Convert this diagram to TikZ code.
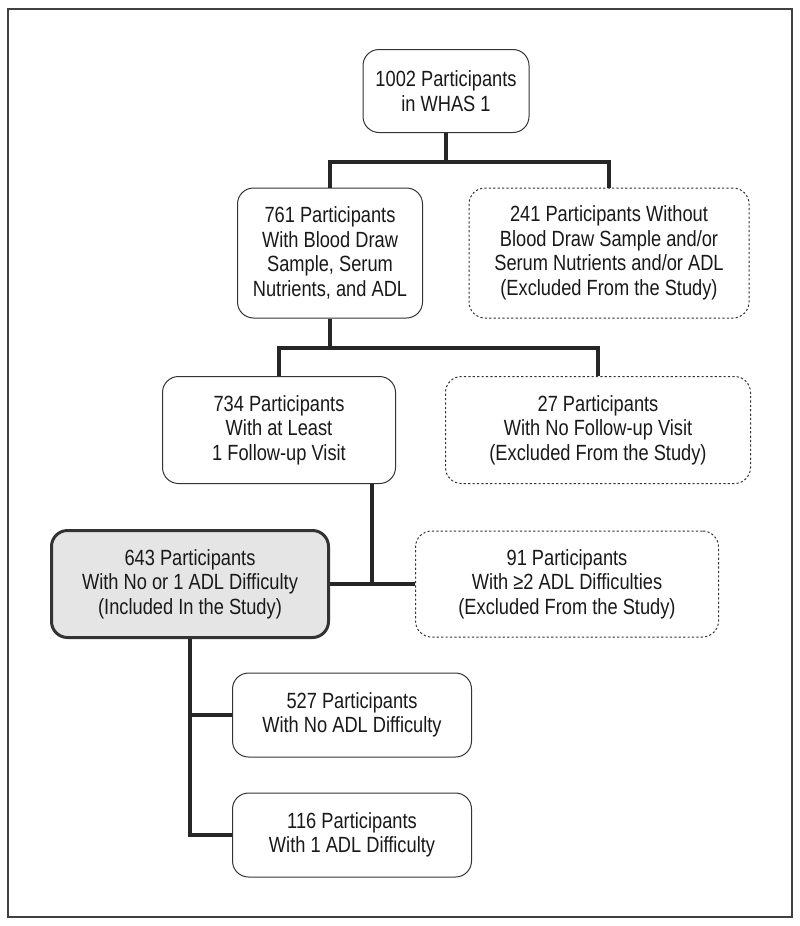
\documentclass[tikz,border=0pt]{standalone}
\usepackage{fontspec}
\newfontfamily\chartfont{Liberation Sans}[FakeStretch=0.83]
\usetikzlibrary{calc,positioning}

\begin{document}
\begin{tikzpicture}[x=1pt,y=-1pt]
  \tikzset{
    box/.style={draw=black!80, fill=white, rounded corners=16pt, line width=1pt, align=center, text=black!90, font=\chartfont\fontsize{22}{24.5}\selectfont, inner sep=4pt},
    xbox/.style={box, dash pattern=on 2.2pt off 2.2pt},
    incl/.style={box, fill=black!10, line width=3pt},
    conn/.style={black!85, line width=3.2pt},
    frame/.style={draw=black!75, line width=1.8pt}
  }

  % - Frame ---
  \useasboundingbox (0,0) rectangle (800,926);
  \draw[frame] (8,9) rectangle (792,917);

  % - Top level ---
  \node[box, minimum width=166pt, minimum height=83pt] (n1002) at (446, 91) {1002 Participants\\in WHAS 1};

  % - Blood draw split ---
  \node[box, minimum width=185pt, minimum height=130pt] (n761) at (330, 253) {761 Participants\\With Blood Draw\\Sample, Serum\\Nutrients, and ADL};
  \node[xbox, minimum width=280pt, minimum height=130pt] (n241) at (609, 253) {241 Participants Without\\Blood Draw Sample and/or\\Serum Nutrients and/or ADL\\(Excluded From the Study)};

  % - Follow-up split ---
  \node[box, minimum width=233pt, minimum height=107pt] (n734) at (279, 430) {734 Participants\\With at Least\\1 Follow-up Visit};
  \node[xbox, minimum width=305pt, minimum height=107pt] (n27) at (598, 430) {27 Participants\\With No Follow-up Visit\\(Excluded From the Study)};

  % - ADL split ---
  \node[incl, minimum width=277pt, minimum height=107pt] (n643) at (190, 584) {643 Participants\\With No or 1 ADL Difficulty\\(Included In the Study)};
  \node[xbox, minimum width=303pt, minimum height=106pt] (n91) at (567, 584) {91 Participants\\With ≥2 ADL Difficulties\\(Excluded From the Study)};

  % - Included groups ---
  \node[box, minimum width=239pt, minimum height=84pt] (n527) at (352, 715) {527 Participants\\With No ADL Difficulty};
  \node[box, minimum width=239pt, minimum height=84pt] (n116) at (352, 835) {116 Participants\\With 1 ADL Difficulty};

  % - Connectors ---
  \coordinate (b1) at (446, 162);
  \coordinate (b2) at (330, 348);
  \coordinate (b3) at (372, 584);
  \draw[conn] (n1002.south) -- (b1);
  \draw[conn] (n761.north) |- (b1) -| (n241.north);
  \draw[conn] (n761.south) -- (b2);
  \draw[conn] (n734.north) |- (b2) -| (n27.north);
  \draw[conn] (n734.south -| b3) -- (b3);
  \draw[conn] (n643.east) -- (n91.west);
  \draw[conn] (n643.south) |- (n116.west);
  \draw[conn] (n643.south |- n527.west) -- (n527.west);

\end{tikzpicture}
\end{document}
